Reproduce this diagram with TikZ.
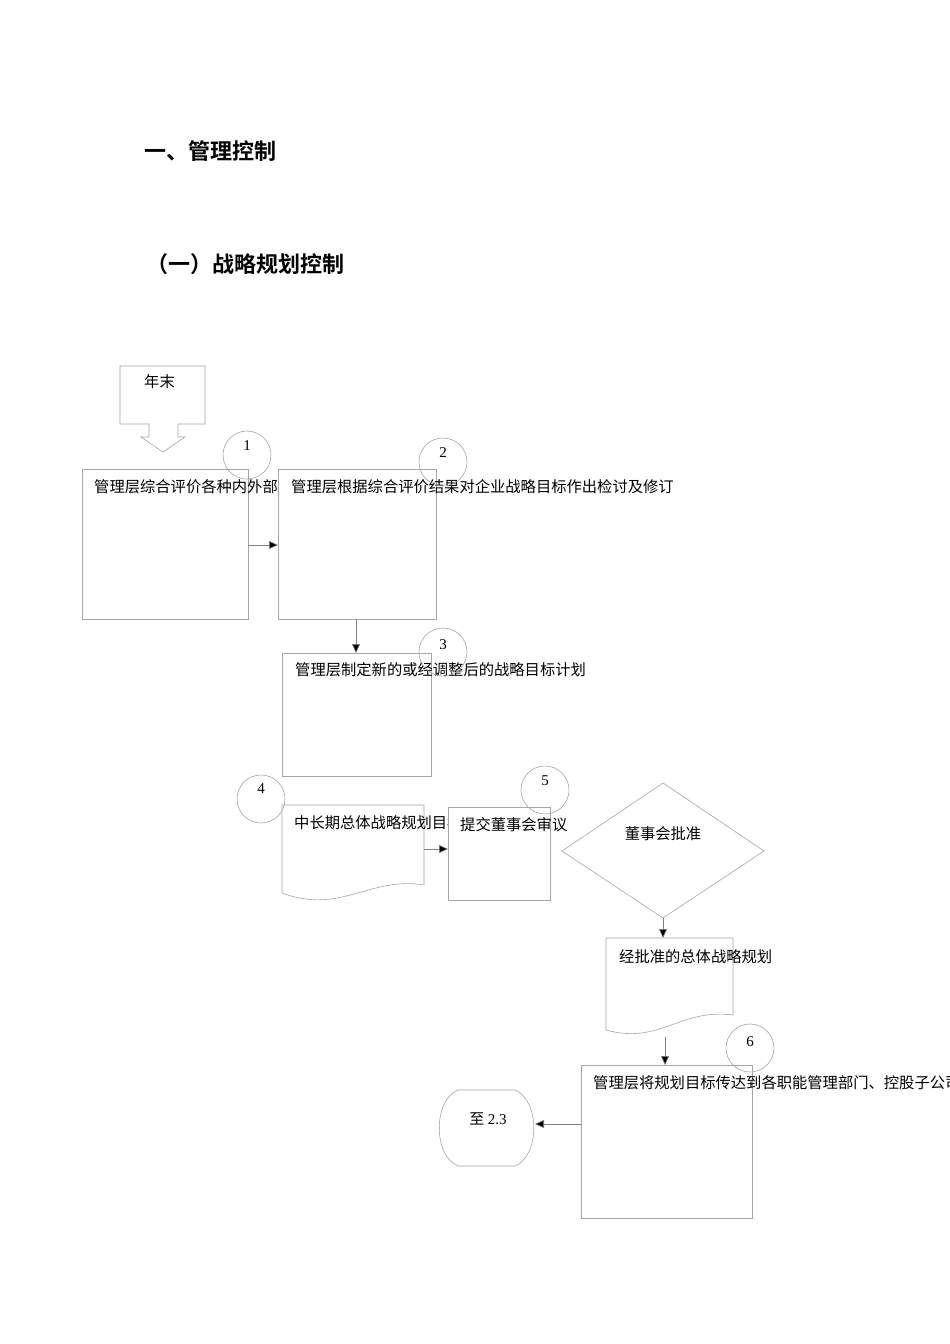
\documentclass[tikz,border=0pt]{standalone}
\usepackage{fontspec}
\newfontfamily\cjk{Noto Sans CJK SC}
\newfontfamily\cjkb{Noto Sans CJK SC Bold}
\newfontfamily\numf{Liberation Serif}
\usetikzlibrary{arrows.meta}
\begin{document}
\begin{tikzpicture}[x=1pt,y=-1pt,
  shp/.style={draw=gray!70,line width=0.6pt,fill=white},
  circ/.style={draw=gray!70,line width=0.6pt},
  lab/.style={anchor=west,inner sep=0pt,font=\cjk\fontsize{15.3}{15}\selectfont},
  num/.style={inner sep=0pt,font=\numf\fontsize{15}{15}\selectfont},
  arr/.style={draw=gray,line width=0.6pt,-{Triangle[length=9pt,width=8pt,fill=black]}}]
\useasboundingbox (0,0) rectangle (950,1344);
\fill[white] (0,0) rectangle (950,1344);
\node[anchor=west,inner sep=0pt,font=\cjkb\fontsize{22}{22}\selectfont] (h1) at (144,151) {一、管理控制};
\node[anchor=west,inner sep=0pt,font=\cjkb\fontsize{22}{22}\selectfont] (h2) at (146,264) {（一）战略规划控制};
% start callout
\draw[shp] (120,366)--(205,366)--(205,424)--(178,424)--(178,437)--(185,437)--(163,452)--(141,437)--(149,437)--(149,424)--(120,424)--cycle;
\node[lab] (t0) at (144,382) {年末};
% box1
\draw[shp] (82,469) rectangle (248,619);
\node[lab] (t1) at (94,487) {管理层综合评价各种内外部因素};
% box2
\draw[shp] (278,469) rectangle (436,619);
\node[lab] (t2) at (291,487) {管理层根据综合评价结果对企业战略目标作出检讨及修订};
\coordinate (b1r) at (248,545); \coordinate (b2l) at (278,545);
\draw[arr] (b1r) -- (b2l);
\node[circ,circle,minimum size=48pt] (c1) at (247,455) {};
\node[num] at (247,446) {1};
\node[circ,circle,minimum size=48pt] (c2) at (443,462) {};
\node[num] at (443,453) {2};
% box3
\draw[shp] (282,653) rectangle (431,776);
\node[lab] (t3) at (295,670) {管理层制定新的或经调整后的战略目标计划};
\coordinate (b2b) at (356,619); \coordinate (b3t) at (356,653);
\draw[arr] (b2b) -- (b3t);
\node[circ,circle,minimum size=48pt] (c3) at (443,652) {};
\node[num] at (443,645) {3};
% doc4
\draw[shp] (282,805)--(424,805)--(424,885) .. controls (370,876) and (340,915) .. (282,893) -- cycle;
\node[lab] (t4) at (294,823) {中长期总体战略规划目标};
% box5
\draw[shp] (448,807) rectangle (550,900);
\node[lab] (t5) at (460,825) {提交董事会审议};
\coordinate (d4r) at (424,849); \coordinate (b5l) at (448,849);
\draw[arr] (d4r) -- (b5l);
\node[circ,circle,minimum size=48pt] (c4) at (261,799) {};
\node[num] at (261,789) {4};
\node[circ,circle,minimum size=48pt] (c5) at (545,790) {};
\node[num] at (545,781) {5};
% diamond
\draw[shp] (663,783)--(764,851)--(663,918)--(562,851)--cycle;
\node[lab,anchor=center] (t6) at (663,834) {董事会批准};
% doc approved
\draw[shp] (606,938)--(733,938)--(733,1015) .. controls (680,1008) and (660,1045) .. (606,1030) -- cycle;
\node[lab] (t7) at (619,957) {经批准的总体战略规划};
\coordinate (dmb) at (663,918); \coordinate (d7t) at (663,938);
\draw[arr] (dmb) -- (d7t);
% box6
\draw[shp] (581,1065) rectangle (752,1218);
\node[lab] (t8) at (593,1083) {管理层将规划目标传达到各职能管理部门、控股子公司};
\coordinate (d7b) at (665,1037); \coordinate (b6t) at (665,1065);
\draw[arr] (d7b) -- (b6t);
\node[circ,circle,minimum size=48pt] (c6) at (750,1048) {};
\node[num] at (750,1042) {6};
% terminator
\draw[shp] (458,1090) -- (515,1090) .. controls (540,1100) and (540,1156) .. (515,1166) -- (458,1166) .. controls (433,1156) and (433,1100) .. (458,1090) -- cycle;
\node[inner sep=0pt,font=\cjk\fontsize{15}{15}\selectfont] (t9) at (488,1119) {至 {\numf 2.3}};
\coordinate (b6l) at (581,1124); \coordinate (trr) at (535,1124);
\draw[arr] (b6l) -- (trr);
\end{tikzpicture}
\end{document}
